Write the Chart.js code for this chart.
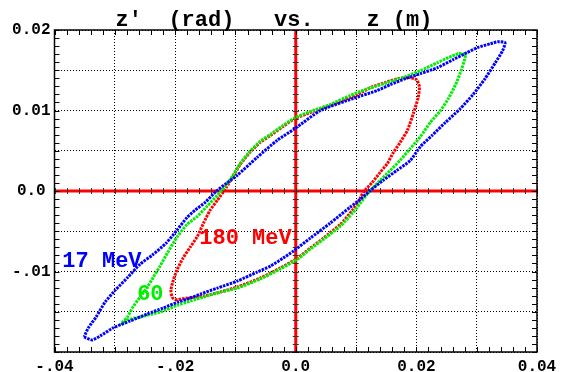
<!DOCTYPE html>
<html>
<head>
<meta charset="utf-8">
<script src="https://cdn.jsdelivr.net/npm/chart.js@4/dist/chart.umd.min.js"></script>
<style>
  body { margin: 0; background: #fff; }
  #wrap { width: 567px; height: 372px; }
</style>
</head>
<body>
<div id="wrap"><canvas id="phaseChart" width="567" height="372"></canvas></div>
<script>
// z' vs z phase space (loop goes lower edge -> right -> upper edge -> back)

const blueZ = [-0.0351, -0.0338, -0.0324, -0.0303, -0.0275, -0.0246, -0.0220, -0.0195, -0.0175, -0.0158,
  -0.0130, -0.0097, -0.0064, -0.0042, -0.0021, -0.0004, 0.0024, 0.0057, 0.0090, 0.0107,
  0.0124, 0.0145, 0.0168, 0.0190, 0.0207, 0.0226, 0.0248, 0.0273, 0.0294, 0.0314,
  0.0331, 0.0343, 0.0347, 0.0336, 0.0323, 0.0301, 0.0284, 0.0261, 0.0235, 0.0207,
  0.0182, 0.0157, 0.0135, 0.0095, 0.0041, -0.0001, -0.0031, -0.0064, -0.0097, -0.0115,
  -0.0132, -0.0150, -0.0167, -0.0180, -0.0197, -0.0215, -0.0238, -0.0258, -0.0278, -0.0299,
  -0.0316, -0.0331, -0.0344, -0.0351];
const blueZp = [-0.01813, -0.01850, -0.01800, -0.01701, -0.01615, -0.01528, -0.01454, -0.01379, -0.01330, -0.01280,
  -0.01206, -0.01119, -0.01007, -0.00933, -0.00834, -0.00747, -0.00586, -0.00400, -0.00202, -0.00103,
  0.00009, 0.00133, 0.00257, 0.00380, 0.00554, 0.00690, 0.00851, 0.01025, 0.01198, 0.01397,
  0.01595, 0.01743, 0.01843, 0.01855, 0.01830, 0.01781, 0.01719, 0.01632, 0.01533, 0.01458,
  0.01397, 0.01322, 0.01248, 0.01149, 0.01000, 0.00777, 0.00628, 0.00418, 0.00195, 0.00095,
  -0.00004, -0.00140, -0.00239, -0.00326, -0.00487, -0.00648, -0.00797, -0.00908, -0.01069, -0.01230,
  -0.01379, -0.01565, -0.01701, -0.01813];

const greenZ = [-0.0289, -0.0279, -0.0258, -0.0225, -0.0195, -0.0175, -0.0153, -0.0125, -0.0097, -0.0059,
  -0.0026, 0.0003, 0.0024, 0.0046, 0.0074, 0.0094, 0.0107, 0.0117, 0.0127, 0.0140,
  0.0157, 0.0173, 0.0190, 0.0207, 0.0223, 0.0240, 0.0253, 0.0265, 0.0273, 0.0279,
  0.0281, 0.0270, 0.0253, 0.0235, 0.0207, 0.0182, 0.0157, 0.0137, 0.0115, 0.0090,
  0.0057, 0.0029, -0.0001, -0.0021, -0.0042, -0.0059, -0.0076, -0.0092, -0.0105, -0.0117,
  -0.0130, -0.0147, -0.0163, -0.0180, -0.0197, -0.0213, -0.0225, -0.0236, -0.0246, -0.0258,
  -0.0270, -0.0279, -0.0288, -0.0289];
const greenZp = [-0.01664, -0.01602, -0.01565, -0.01503, -0.01416, -0.01367, -0.01317, -0.01255, -0.01206, -0.01094,
  -0.00970, -0.00846, -0.00722, -0.00599, -0.00437, -0.00276, -0.00152, -0.00053, 0.00033, 0.00133,
  0.00257, 0.00380, 0.00529, 0.00678, 0.00851, 0.01000, 0.01149, 0.01322, 0.01471, 0.01607,
  0.01694, 0.01706, 0.01657, 0.01595, 0.01496, 0.01421, 0.01359, 0.01310, 0.01260, 0.01186,
  0.01074, 0.01000, 0.00913, 0.00814, 0.00703, 0.00616, 0.00492, 0.00343, 0.00182, 0.00058,
  -0.00053, -0.00190, -0.00314, -0.00413, -0.00574, -0.00772, -0.00933, -0.01069, -0.01193, -0.01317,
  -0.01441, -0.01565, -0.01639, -0.01664];

const redZ = [-0.0200, -0.0180, -0.0153, -0.0125, -0.0097, -0.0059, -0.0026, 0.0003, 0.0024, 0.0046,
  0.0074, 0.0094, 0.0104, 0.0112, 0.0127, 0.0140, 0.0152, 0.0162, 0.0173, 0.0185,
  0.0195, 0.0203, 0.0205, 0.0200, 0.0187, 0.0170, 0.0148, 0.0124, 0.0102, 0.0069,
  0.0029, -0.0001, -0.0021, -0.0042, -0.0059, -0.0076, -0.0092, -0.0105, -0.0115, -0.0130,
  -0.0142, -0.0153, -0.0163, -0.0175, -0.0187, -0.0197, -0.0203, -0.0207, -0.0205, -0.0200];
const redZp = [-0.01354, -0.01330, -0.01305, -0.01255, -0.01193, -0.01082, -0.00958, -0.00834, -0.00710, -0.00586,
  -0.00413, -0.00239, -0.00128, -0.00016, 0.00108, 0.00232, 0.00343, 0.00480, 0.00603, 0.00752,
  0.00963, 0.01161, 0.01297, 0.01384, 0.01409, 0.01397, 0.01347, 0.01285, 0.01198, 0.01099,
  0.00988, 0.00901, 0.00802, 0.00690, 0.00603, 0.00480, 0.00331, 0.00170, 0.00046, -0.00115,
  -0.00239, -0.00400, -0.00561, -0.00698, -0.00834, -0.00983, -0.01107, -0.01230, -0.01317, -0.01354];

const seriesNames = ['17 MeV', '60', '180 MeV'];
const seriesColors = ['#0000ff', '#00ee00', '#ff0000'];

const xTickVals = [-0.04, -0.02, 0, 0.02, 0.04];
const xTickText = ['-.04', '-.02', '0.0', '0.02', '0.04'];
const yTickVals = [-0.01, 0, 0.01, 0.02];
const yTickText = ['-.01', '0.0', '0.01', '0.02'];

const titleText = 'z\u2032  (rad)   vs.    z (m)';

const monoFont = '"Liberation Mono", "DejaVu Sans Mono", monospace';

function toPoints(xs, ys) {
  return xs.map((v, i) => ({ x: v, y: ys[i] }));
}

function tickLabel(vals, texts) {
  return function(v) {
    const i = vals.findIndex(t => Math.abs(t - v) < 1e-6);
    return i >= 0 ? texts[i] : '';
  };
}

// red zero axes, frame, small ticks, labels
const decorPlugin = {
  id: 'decor',
  beforeDatasetsDraw(chart) {
    const { ctx, chartArea: a, scales: { x, y } } = chart;
    const x0 = x.getPixelForValue(0);
    const y0 = y.getPixelForValue(0);
    ctx.save();
    ctx.strokeStyle = '#ff0000';
    ctx.lineWidth = 3;
    ctx.beginPath();
    ctx.moveTo(x0, a.top); ctx.lineTo(x0, a.bottom);
    ctx.moveTo(a.left, y0); ctx.lineTo(a.right, y0);
    ctx.stroke();
    // ticks along the axis lines
    ctx.strokeStyle = '#333';
    ctx.lineWidth = 1;
    ctx.beginPath();
    for (let i = -20; i <= 20; i++) {
      const px = Math.round(x.getPixelForValue(i * 0.002)) + 0.5;
      ctx.moveTo(px, y0 - 3); ctx.lineTo(px, y0 + 3);
    }
    for (let i = -20; i <= 20; i++) {
      const py = Math.round(y.getPixelForValue(i * 0.001)) + 0.5;
      ctx.moveTo(x0 - 3, py); ctx.lineTo(x0 + 3, py);
    }
    ctx.stroke();
    ctx.restore();
  },
  afterDatasetsDraw(chart) {
    const { ctx, chartArea: a, scales: { x, y } } = chart;
    ctx.save();
    ctx.strokeStyle = '#000';
    ctx.lineWidth = 1.5;
    ctx.strokeRect(a.left, a.top, a.right - a.left, a.bottom - a.top);
    ctx.lineWidth = 1;
    ctx.beginPath();
    for (let i = -20; i <= 20; i++) {
      const px = Math.round(x.getPixelForValue(i * 0.002)) + 0.5;
      ctx.moveTo(px, a.bottom); ctx.lineTo(px, a.bottom - 5);
      ctx.moveTo(px, a.top); ctx.lineTo(px, a.top + 5);
    }
    for (let i = -20; i <= 20; i++) {
      const py = Math.round(y.getPixelForValue(i * 0.001)) + 0.5;
      ctx.moveTo(a.left, py); ctx.lineTo(a.left + 5, py);
      ctx.moveTo(a.right, py); ctx.lineTo(a.right - 5, py);
    }
    ctx.stroke();

    // curve labels
    ctx.font = 'bold 22px ' + monoFont;
    ctx.textBaseline = 'middle';
    ctx.textAlign = 'left';
    const spots = [[-0.0387, -0.0087], [-0.0263, -0.0128], [-0.0160, -0.0059]];
    seriesNames.forEach((name, i) => {
      ctx.fillStyle = seriesColors[i];
      ctx.fillText(name, x.getPixelForValue(spots[i][0]), y.getPixelForValue(spots[i][1]));
    });

    // title
    ctx.fillStyle = '#000';
    ctx.textAlign = 'center';
    ctx.fillText(titleText, 274, 20);
    ctx.restore();
  }
};

const ctx = document.getElementById('phaseChart').getContext('2d');
const allZ = [blueZ, greenZ, redZ];
const allZp = [blueZp, greenZp, redZp];

new Chart(ctx, {
  type: 'scatter',
  data: {
    datasets: seriesNames.map((name, i) => ({
      label: name,
      data: toPoints(allZ[i], allZp[i]),
      showLine: true,
      borderColor: seriesColors[i],
      borderWidth: 3,
      borderDash: [2.5, 1],
      pointRadius: 0,
      tension: 0.2,
      fill: false,
    }))
  },
  options: {
    responsive: false,
    animation: false,
    devicePixelRatio: 1,
    layout: { padding: { left: 0, right: 30, top: 30, bottom: 0 } },
    plugins: { legend: { display: false }, tooltip: { enabled: false }, title: { display: false } },
    scales: {
      x: {
        type: 'linear',
        min: -0.04,
        max: 0.04,
        afterFit: s => { s.height = 20; },
        ticks: {
          stepSize: 0.01,
          autoSkip: false,
          maxRotation: 0,
          padding: 5,
          color: '#000',
          font: { family: monoFont, size: 16, weight: 'bold' },
          callback: tickLabel(xTickVals, xTickText)
        },
        grid: { color: '#000', lineWidth: 1, drawTicks: false },
        border: { display: false, dash: [1, 2] }
      },
      y: {
        type: 'linear',
        min: -0.02,
        max: 0.02,
        afterFit: s => { s.width = 54.5; },
        ticks: {
          stepSize: 0.005,
          autoSkip: false,
          padding: 4,
          crossAlign: 'center',
          color: '#000',
          font: { family: monoFont, size: 16, weight: 'bold' },
          callback: tickLabel(yTickVals, yTickText)
        },
        grid: { color: '#000', lineWidth: 1, drawTicks: false },
        border: { display: false, dash: [1, 2] }
      }
    }
  },
  plugins: [decorPlugin]
});
</script>
</body>
</html>
